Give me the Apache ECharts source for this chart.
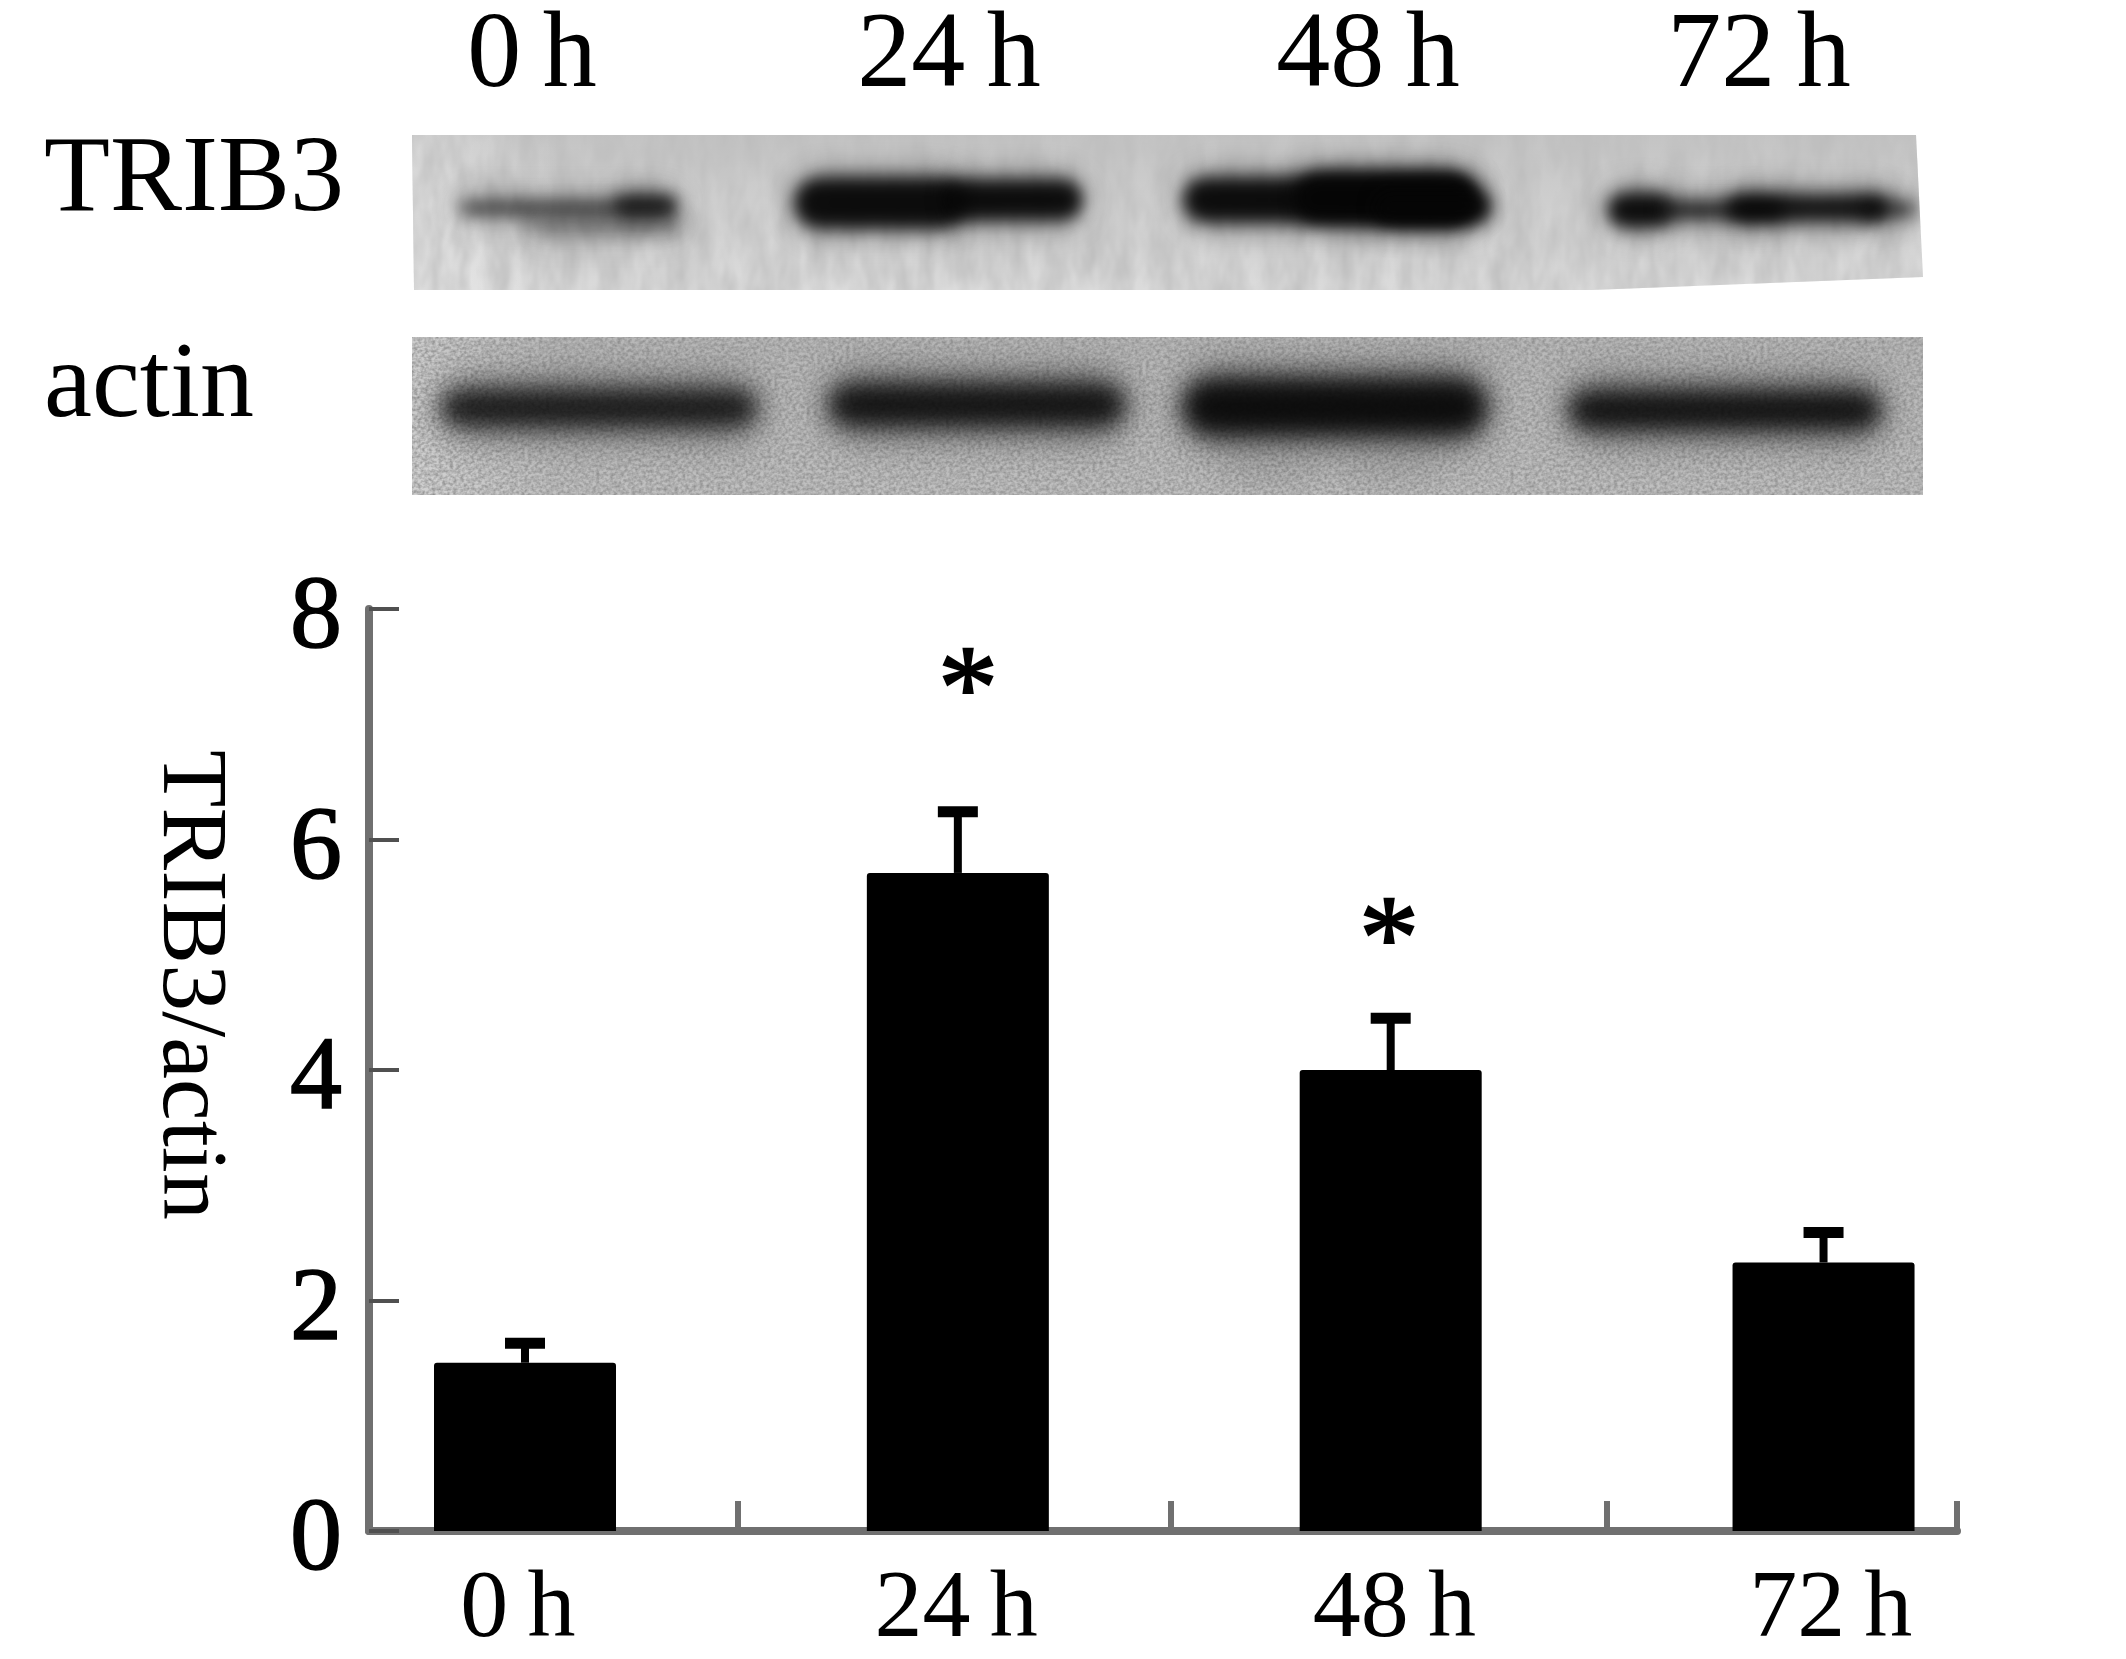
<!DOCTYPE html>
<html>
<head>
<meta charset="utf-8">
<style>html,body{margin:0;padding:0;background:#fff}#c{width:2126px;height:1659px}</style>
<script src="https://cdn.jsdelivr.net/npm/echarts@6/dist/echarts.min.js"></script>
</head>
<body>
<svg width="0" height="0" style="position:absolute">
  <filter id="smear" x="0" y="0" width="100%" height="100%"><feTurbulence type="fractalNoise" baseFrequency="0.045 0.018" numOctaves="3" seed="4"/><feColorMatrix values="0 0 0 0 0.5  0 0 0 0 0.5  0 0 0 0 0.5  1.4 0 0 0 -0.35"/></filter>
  <filter id="grain" x="0" y="0" width="100%" height="100%"><feTurbulence type="fractalNoise" baseFrequency="0.28 0.34" numOctaves="2" seed="9"/><feColorMatrix values="0 0 0 0 0.25  0 0 0 0 0.25  0 0 0 0 0.25  1.6 0 0 0 -0.5"/></filter>
</svg>
<div id="c"></div>
<script>
// ---- chart data ----
var timeHours = [0, 24, 48, 72];
var tickLabels = ['0\u2009h', '24\u2009h', '48\u2009h', '72\u2009h'];
var ratioMeans = [1.46, 5.71, 4.0, 2.33];
var ratioUpper = [1.63, 6.24, 4.45, 2.59];
var starPoints = [[24.56, 7.45], [47.9, 5.28]];
var yTicks = [0, 2, 4, 6, 8];
var yTitle = 'TRIB3/actin';
var blotRowLabels = ['TRIB3', 'actin'];

// ---- layout ----
var SERIF = '"Liberation Serif","Times New Roman",serif';
var xMin = -8.65, xMax = 79.4;
var xLabelAnchors = [-0.4, 23.9, 48.2, 72.4];
var xTickStops = [11.8, 35.8, 60, 79.4];

// ---- blot panels (picture, not data) ----
var trib3Panel = [[412,135],[1916,135],[1923,277],[1592,290],[414,290]];
var actinPanel = [[412,337],[1923,337],[1923,495],[412,495]];
var trib3Bands = [
  [568,208,108,7,.72],[645,205,30,9,.75],[605,226,78,10,.28],
  [880,203,85,25,1],[1012,200,70,20,1],
  [1330,200,146,22,1],[1385,197,90,24,1],[1432,207,58,16,1],
  [1640,210,32,17,1],[1722,210,62,8,.92],[1808,208,80,13,.95],[1888,209,28,7,.8]
];
var actinBands = [
  [599,408,158,23,.85],[977,405,148,26,.9],[1335,407,152,33,.98],
  [1725,410,156,24,.92],[1270,472,44,4,.16],[1390,472,44,4,.14]
];

function tracePanel(ctx, p) {
  ctx.beginPath();
  p.forEach(function (q, i) { i ? ctx.lineTo(q[0], q[1]) : ctx.moveTo(q[0], q[1]); });
  ctx.closePath();
}
function drawBands(ctx, bands, blur, grow, alphaScale) {
  ctx.filter = 'blur(' + blur + 'px)';
  bands.forEach(function (b) {
    var ry = Math.max(b[3] + grow, 2);
    ctx.globalAlpha = b[4] * alphaScale;
    ctx.fillStyle = '#050505';
    ctx.beginPath();
    ctx.roundRect(b[0] - b[2], b[1] - ry, b[2] * 2, ry * 2, ry);
    ctx.fill();
  });
}
function paintPanel(ctx, poly, stops, tex, texAlpha, sideTop, bands, blur, coreGrow, haloAlpha) {
  ctx.save();
  tracePanel(ctx, poly);
  ctx.clip();
  var top = poly[0][1], bot = top + 160;
  var g = ctx.createLinearGradient(0, top, 0, bot);
  stops.forEach(function (s) { g.addColorStop(s[0], s[1]); });
  ctx.fillStyle = g;
  ctx.fillRect(0, top, 2126, 170);
  var h = ctx.createLinearGradient(412, 0, 560, 0);
  h.addColorStop(0, 'rgba(255,255,255,' + sideTop + ')');
  h.addColorStop(1, 'rgba(255,255,255,0)');
  ctx.fillStyle = h;
  ctx.fillRect(412, top, 150, 170);
  ctx.save();
  ctx.globalAlpha = texAlpha;
  ctx.filter = 'url(#' + tex + ')';
  ctx.fillRect(412, top, 1520, 165);
  ctx.restore();
  drawBands(ctx, bands, blur * 1.7, 4, haloAlpha);
  drawBands(ctx, bands, blur, coreGrow, .92);
  ctx.restore();
}
var blot = document.createElement('canvas');
blot.width = 2126; blot.height = 520;
var bctx = blot.getContext('2d');
paintPanel(bctx, trib3Panel, [[0,'#c4c4c4'],[.45,'#cfcfcf'],[1,'#dcdcdc']], 'smear', .16, .35, trib3Bands, 8, -1, .55);
paintPanel(bctx, actinPanel, [[0,'#b8b8b8'],[.6,'#bcbcbc'],[1,'#c0c0c0']], 'grain', .3, .3, actinBands, 11, -6, .55);

var topLabelCentres = [532, 949, 1368, 1759];
var graphics = [
  { type: 'image', z: 0, style: { image: blot, x: 0, y: 0, width: 2126, height: 520 } },
  { type: 'text', z: 5, style: { text: blotRowLabels[0], x: 44, y: 128, font: '108px ' + SERIF, fill: '#000', textAlign: 'left' } },
  { type: 'text', z: 5, style: { text: blotRowLabels[1], x: 44, y: 334, font: '108px ' + SERIF, fill: '#000', textAlign: 'left' } }
];
tickLabels.forEach(function (t, i) {
  graphics.push({ type: 'text', z: 5, style: { text: t, x: topLabelCentres[i], y: 4, font: '108px ' + SERIF, fill: '#000', textAlign: 'center' } });
});

var chart = echarts.init(document.getElementById('c'), null, { renderer: 'canvas', width: 2126, height: 1659 });
chart.setOption({
  animation: false,
  backgroundColor: '#fff',
  graphic: graphics,
  grid: { left: 369, right: 169, top: 609, bottom: 128, containLabel: false },
  xAxis: {
    type: 'value', min: xMin, max: xMax, splitLine: { show: false },
    axisLine: { show: true, onZero: false, lineStyle: { color: '#707070', width: 8, cap: 'round' } },
    axisTick: { show: true, inside: true, length: 30, customValues: xTickStops, lineStyle: { color: '#707070', width: 6 } },
    axisLabel: {
      customValues: xLabelAnchors, margin: 32, color: '#000', fontFamily: SERIF, fontSize: 96,
      formatter: function (v) { return tickLabels[xLabelAnchors.indexOf(v)]; }
    }
  },
  yAxis: {
    type: 'value', min: 0, max: 8, interval: 2, splitLine: { show: false },
    name: yTitle, nameLocation: 'middle', nameRotate: -90, nameGap: 133,
    nameTextStyle: { color: '#000', fontFamily: SERIF, fontSize: 94, padding: [0, 170, 0, 0] },
    axisLine: { show: true, onZero: false, lineStyle: { color: '#707070', width: 8, cap: 'round' } },
    axisTick: { show: true, inside: true, length: 30, lineStyle: { color: '#505050', width: 4 } },
    axisLabel: { margin: 27, color: '#000', fontFamily: SERIF, fontSize: 104, customValues: yTicks, verticalAlign: 'top', lineHeight: 22, textBorderColor: '#000', textBorderWidth: 1.5 }
  },
  series: [
    {
      type: 'bar', barWidth: 182, z: 3,
      itemStyle: { color: '#000', borderRadius: [3, 3, 0, 0] },
      data: timeHours.map(function (h, i) { return [h, ratioMeans[i]]; })
    },
    {
      type: 'custom', z: 4,
      encode: { x: 0, y: 2 },
      data: timeHours.map(function (h, i) { return [h, ratioMeans[i], ratioUpper[i]]; }),
      renderItem: function (p, api) {
        var a = api.coord([api.value(0), api.value(1)]);
        var b = api.coord([api.value(0), api.value(2)]);
        var s = { stroke: '#000', lineWidth: 8, fill: null };
        var c = { stroke: '#000', lineWidth: 11, fill: null };
        return { type: 'group', children: [
          { type: 'line', shape: { x1: a[0], y1: a[1], x2: b[0], y2: b[1] }, style: s },
          { type: 'line', shape: { x1: b[0] - 20, y1: b[1], x2: b[0] + 20, y2: b[1] }, style: c }
        ] };
      }
    },
    {
      type: 'custom', z: 4,
      data: starPoints,
      renderItem: function (p, api) {
        var a = api.coord([api.value(0), api.value(1)]);
        return { type: 'text', style: { text: '*', x: a[0], y: a[1] - 36, font: '120px ' + SERIF, fill: '#000', textAlign: 'center', stroke: '#000', lineWidth: 2 } };
      }
    }
  ]
});
</script>
</body>
</html>
